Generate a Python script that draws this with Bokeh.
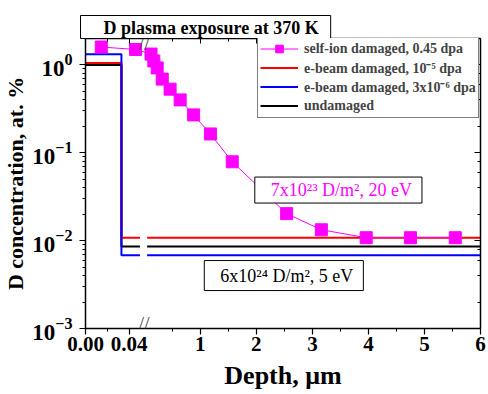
import numpy as np
from bokeh.plotting import figure
from bokeh.models import (FixedTicker, LinearAxis, LogAxis, LogTicker, Label,
                          Legend, LegendItem, Range1d, Title)
from bokeh.embed import file_html
from bokeh.resources import INLINE

# ---------------- data ----------------
self_ion_depth = [0.0145, 0.046, 0.12, 0.17, 0.23, 0.32, 0.46, 0.64, 0.88,
                  1.18, 1.57, 2.54, 3.16, 3.96, 4.75, 5.55]
self_ion_conc = [1.6, 1.5, 1.33, 1.11, 0.925, 0.69, 0.53, 0.40, 0.27,
                 0.164, 0.079, 0.0203, 0.0133, 0.0108, 0.0108, 0.0108]

layer_depth = 0.033          # µm, depth of the near-surface step
ebeam5_surface = 1.05
ebeam5_bulk = 0.0108
ebeam6_surface = 1.32
ebeam6_bulk = 0.0068
undamaged_surface = 1.0
undamaged_bulk = 0.0086
depth_max = 6.0
break_depth = 0.05

x_major = [0.0, 0.04, 1, 2, 3, 4, 5, 6]
x_major_labels = ["0.00", "0.04", "1", "2", "3", "4", "5", "6"]
x_minor = [0.02, 0.5, 1.5, 2.5, 3.5, 4.5, 5.5]

legend_labels = ["self-ion damaged, 0.45 dpa",
                 "e-beam damaged, 10\u207b\u2075 dpa",
                 "e-beam damaged, 3x10\u207b\u2076 dpa",
                 "undamaged"]
title_text = "D plasma exposure at 370 K"
note1_text = "7x10\u00b2\u00b3 D/m\u00b2, 20 eV"
note2_text = "6x10\u00b2\u2074 D/m\u00b2, 5 eV"

# ---------------- broken x axis mapping ----------------
LEFT_SCALE = 1100.0
RIGHT_OFFSET = 59.4
RIGHT_SCALE = 56.6


def u_left(x):
    return np.asarray(x, float) * LEFT_SCALE


def u_right(x):
    return RIGHT_OFFSET + RIGHT_SCALE * np.asarray(x, float)


def u(x):
    x = np.asarray(x, float)
    return np.where(x <= break_depth, u_left(x), u_right(x))


def step_line(surface, bulk):
    xs = [u_left(0.0), u_left(layer_depth), u_left(layer_depth), u_left(break_depth),
          np.nan, u_right(break_depth), u_right(depth_max)]
    ys = [surface, surface, bulk, bulk, np.nan, bulk, bulk]
    return [float(v) for v in xs], ys


FONT = "Liberation Serif"

p = figure(width=488, height=394, output_backend="svg", toolbar_location=None,
           y_axis_type="log",
           x_range=Range1d(0, float(u_right(depth_max))),
           y_range=Range1d(1e-3, 2.0),
           min_border_left=81, min_border_right=8, min_border_top=38,
           min_border_bottom=66)
p.grid.visible = False
p.outline_line_color = None
p.background_fill_color = "white"
p.border_fill_color = "white"

# padding order for this Bokeh: (left, right, top, bottom)
p.title = Title(text=title_text, text_font=FONT, text_font_style="bold",
                text_font_size="18px", text_color="black", align="left",
                offset=-5, standoff=0, border_line_color="black",
                border_line_width=1, background_fill_color="white",
                padding=(23, 12, 2, 1))

ticker = FixedTicker(ticks=[float(v) for v in u(x_major)],
                     minor_ticks=[float(v) for v in u(x_minor)])
overrides = {float(k): lab for k, lab in zip(u(x_major), x_major_labels)}

xa = p.xaxis[0]
xa.ticker = ticker
xa.major_label_overrides = overrides
xa.axis_label = "Depth, \u03bcm"
ya = p.yaxis[0]
ya.axis_label = "D concentration, at. %"

for ax in (xa, ya):
    ax.axis_line_width = 1.5
    ax.major_tick_line_width = 1.2
    ax.minor_tick_line_width = 1
    ax.major_tick_in = 0
    ax.minor_tick_in = 0
    ax.major_tick_out = 6
    ax.minor_tick_out = 3
    ax.major_label_text_font = FONT
    ax.major_label_text_font_style = "bold"
    ax.major_label_text_color = "black"
    ax.axis_label_text_font = FONT
    ax.axis_label_text_font_style = "bold"
    ax.axis_label_text_color = "black"
xa.major_label_text_font_size = "21px"
xa.axis_label_text_font_size = "26px"
xa.major_label_standoff = 2
xa.axis_label_standoff = 7
ya.major_label_text_font_size = "23px"
ya.axis_label_text_font_size = "22px"
ya.major_label_standoff = 7
ya.axis_label_standoff = 1

top = LinearAxis(ticker=ticker, major_label_text_font_size="1px",
                 major_label_text_color=None, axis_label_standoff=0,
                 major_label_standoff=0, major_tick_in=5, major_tick_out=0,
                 minor_tick_in=3, minor_tick_out=0, axis_line_width=1.5)
right = LogAxis(ticker=LogTicker(), major_label_text_font_size="1px",
                major_label_text_color=None, axis_label_standoff=0,
                major_label_standoff=0, major_tick_in=6, major_tick_out=0,
                minor_tick_in=3, minor_tick_out=0, axis_line_width=1.5)
p.add_layout(top, "above")
p.add_layout(right, "right")

# ---------------- series ----------------
bx, by = step_line(undamaged_surface, undamaged_bulk)
r_black = p.line(bx, by, line_color="black", line_width=2)
rx, ry = step_line(ebeam5_surface, ebeam5_bulk)
r_red = p.line(rx, ry, line_color="#ff0000", line_width=2)
blx, bly = step_line(ebeam6_surface, ebeam6_bulk)
r_blue = p.line(blx, bly, line_color="#0000ff", line_width=2)

sx = [float(v) for v in u(self_ion_depth)]
r_mag_line = p.line(sx, self_ion_conc, line_color="#ff00ff", line_width=1)
r_mag_pts = p.scatter(sx, self_ion_conc, marker="square", size=12,
                      fill_color="#ff00ff", line_color="#ff00ff")

legend = Legend(items=[
    LegendItem(label=legend_labels[0], renderers=[r_mag_line, r_mag_pts]),
    LegendItem(label=legend_labels[1], renderers=[r_red]),
    LegendItem(label=legend_labels[2], renderers=[r_blue]),
    LegendItem(label=legend_labels[3], renderers=[r_black]),
], location=(172, 210))
legend.label_text_font = FONT
legend.label_text_font_style = "bold"
legend.label_text_font_size = "14px"
legend.label_height = 19
legend.glyph_height = 19
legend.glyph_width = 38
legend.label_standoff = 6
legend.spacing = 0
legend.padding = 2
legend.margin = 0
legend.border_line_color = "black"
legend.border_line_width = 1
legend.background_fill_alpha = 1
p.add_layout(legend, "center")


def ypix(py):
    # convert a reference pixel row to concentration
    return 10 ** ((64.4 - py) / 87.85)


note1 = Label(x=171, y=ypix(189.5), text=note1_text, text_font=FONT,
              text_font_size="18px", text_color="#ff00ff",
              text_baseline="middle", text_align="left",
              border_line_color="black", border_line_width=1,
              background_fill_color="white", padding=(16, 10, 3, 3))
p.add_layout(note1)

note2 = Label(x=120, y=ypix(275), text=note2_text, text_font=FONT,
              text_font_size="18px", text_color="black",
              text_baseline="middle", text_align="left",
              border_line_color="black", border_line_width=1,
              background_fill_color="white", padding=(16, 10, 5, 5))
p.add_layout(note2)

for py in (323, 43):
    brk = Label(x=float(u_right(break_depth)) - 3, y=ypix(py), text="//",
                text_font=FONT, text_font_size="19px", text_align="center",
                text_baseline="middle")
    p.add_layout(brk)

open("out.html", "w").write(file_html(p, INLINE))
